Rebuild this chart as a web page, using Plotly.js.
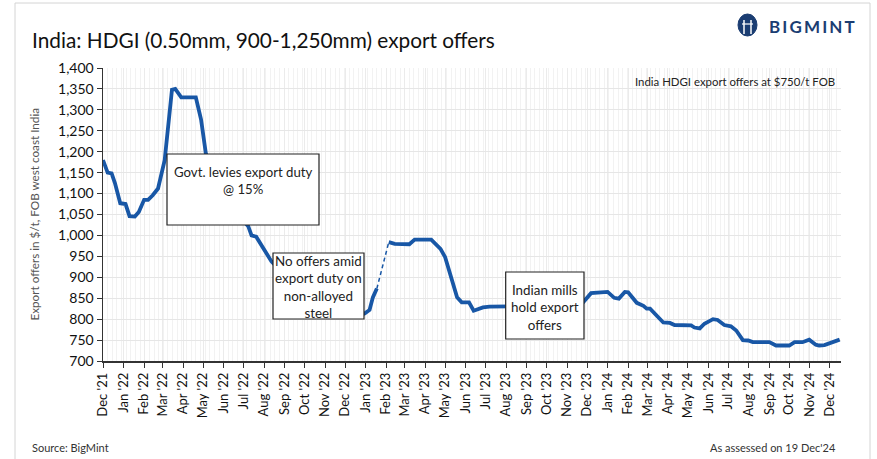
<!DOCTYPE html>
<html>
<head>
<meta charset="utf-8">
<script src="https://cdn.plot.ly/plotly-3.0.1.min.js"></script>
<style>
html,body{margin:0;padding:0;background:#fff;}
#chart{width:877px;height:459px;}
</style>
</head>
<body>
<div id="chart"></div>
<script>
// Weekly export offers, $/t FOB west coast India (vertices)
const offerDates = [
  '2021-12-01','2021-12-08','2021-12-14','2021-12-19','2021-12-27','2022-01-04','2022-01-10','2022-01-18',
  '2022-01-24','2022-02-01','2022-02-07','2022-02-14','2022-02-22','2022-03-04','2022-03-15','2022-03-20',
  '2022-03-29','2022-04-20','2022-04-28','2022-05-05','2022-05-15','2022-05-28','2022-06-12','2022-06-28',
  '2022-07-08','2022-07-13','2022-07-20','2022-08-12','2022-08-20',
  '2022-10-15',
  '2022-12-25','2022-12-31','2023-01-07','2023-01-12','2023-01-18',
  '2023-01-26',
  '2023-02-05','2023-02-14','2023-03-08','2023-03-16','2023-04-10','2023-04-24','2023-05-01','2023-05-11',
  '2023-05-19','2023-05-26','2023-06-06','2023-06-13','2023-06-27','2023-07-07','2023-07-30','2023-09-15',
  '2023-10-25','2023-11-20','2023-11-25','2023-12-07','2024-01-01','2024-01-11','2024-01-18','2024-01-27',
  '2024-02-01','2024-02-14','2024-02-24','2024-02-29','2024-03-05','2024-03-25','2024-04-04','2024-04-11',
  '2024-05-06','2024-05-11','2024-05-19','2024-05-26','2024-06-08','2024-06-15','2024-06-25','2024-07-05',
  '2024-07-13','2024-07-23','2024-07-31','2024-08-07','2024-09-01','2024-09-11','2024-10-01','2024-10-09',
  '2024-10-21','2024-10-31','2024-11-10','2024-11-15','2024-11-23','2024-12-06','2024-12-16'
];
const offerValues = [
  1180,1150,1148,1125,1077,1075,1046,1045,
  1056,1085,1085,1096,1112,1180,1348,1350,
  1330,1330,1276,1197,1150,1100,1060,1040,
  1022,1000,997,938,925,
  null,
  810,814,822,852,873,
  null,
  984,980,979,990,990,968,948,892,
  852,840,840,820,828,830,830,830,
  830,832,840,862,865,851,849,865,
  864,839,832,825,825,792,791,786,
  785,780,778,789,800,798,786,783,
  773,750,749,745,745,737,737,745,
  745,751,739,737,738,745,751
];
// dashed bridge where offers resumed
const bridgeDates = ['2023-01-18','2023-02-05'];
const bridgeValues = [873, 984];

const yTicks = [700,750,800,850,900,950,1000,1050,1100,1150,1200,1250,1300,1350,1400];

const chartTitle = 'India: HDGI (0.50mm, 900-1,250mm) export offers';
const yTitle = 'Export offers in $/t, FOB west coast India';
const noteText = 'India HDGI export offers at $750/t FOB';
const box1Text = 'Govt. levies export duty<br>@ 15%';
const box2Text = 'No offers amid<br>export duty on<br>non-alloyed<br>steel';
const box3Text = 'Indian mills<br>hold export<br>offers';
const sourceText = 'Source: BigMint';
const assessedText = "As assessed on 19 Dec'24";
const logoText = 'B\u2009I\u2009G\u2009M\u2009I\u2009N\u2009T';

const FONT = 'Lato, "Open Sans", sans-serif';
const blue = '#1857a6';

const traces = [
  {x: offerDates, y: offerValues, type: 'scatter', mode: 'lines',
   line: {color: blue, width: 3.8}, connectgaps: false, hoverinfo: 'x+y'},
  {x: bridgeDates, y: bridgeValues, type: 'scatter', mode: 'lines',
   line: {color: blue, width: 1.5, dash: '4px,3px'}, hoverinfo: 'x+y'}
];

// pixel -> paper helpers for the layout boxes
const L = 103, R = 841, T = 68, B = 361;
const px = v => (v - L) / (R - L);
const py = v => (B - v) / (B - T);

function box(x0, y0, x1, y1) {
  return {type: 'rect', xref: 'paper', yref: 'paper', layer: 'above',
    x0: px(x0), x1: px(x1), y0: py(y1), y1: py(y0),
    fillcolor: '#ffffff', line: {color: '#222222', width: 1.2}};
}

const layout = {
  width: 877, height: 459,
  margin: {l: L, r: 877 - R, t: T, b: 459 - B},
  paper_bgcolor: '#ffffff', plot_bgcolor: '#ffffff',
  showlegend: false,
  font: {family: FONT, color: '#222222'},
  xaxis: {
    type: 'date', range: ['2021-12-01', '2024-12-18'],
    tick0: '2021-12-01', dtick: 'M1', tickformat: "%b '%y", tickangle: -90,
    ticks: 'outside', ticklen: 5, tickcolor: '#333333', tickwidth: 1,
    showline: true, linecolor: '#333333', linewidth: 1.5,
    showgrid: true, gridcolor: '#ebebeb', gridwidth: 1,
    minor: {dtick: 7 * 86400000, tick0: '2021-12-01', showgrid: true, gridcolor: '#f2f2f2', gridwidth: 1},
    tickfont: {family: FONT, size: 13, color: '#111111'},
    zeroline: false, fixedrange: true
  },
  yaxis: {
    range: [700, 1400], tickvals: yTicks, tickformat: ',d',
    ticks: 'outside', ticklen: 5, tickcolor: '#333333',
    showline: true, linecolor: '#333333', linewidth: 1.5,
    showgrid: true, gridcolor: '#e6e6e6', gridwidth: 1,
    tickfont: {family: FONT, size: 14, color: '#111111'},
    zeroline: false, fixedrange: true
  },
  shapes: [
    // outer frame
    {type: 'rect', xref: 'paper', yref: 'paper', layer: 'below',
     x0: px(15), x1: px(870), y0: py(475), y1: py(3),
     line: {color: '#d4d4d4', width: 1}, fillcolor: 'rgba(0,0,0,0)'},
    box(167, 154, 319, 225),
    box(273, 253, 364, 319),
    box(505.7, 272, 584, 339),
    // logo icon
    {type: 'circle', xref: 'paper', yref: 'paper', x0: px(738), x1: px(757), y0: py(36), y1: py(14),
     fillcolor: '#1b3d72', line: {color: '#1b3d72', width: 1}},
    {type: 'line', xref: 'paper', yref: 'paper', x0: px(744), x1: px(744), y0: py(34), y1: py(20),
     line: {color: '#ffffff', width: 1.5}},
    {type: 'line', xref: 'paper', yref: 'paper', x0: px(751), x1: px(751), y0: py(34), y1: py(20),
     line: {color: '#ffffff', width: 1.5}},
    {type: 'line', xref: 'paper', yref: 'paper', x0: px(742), x1: px(753), y0: py(24), y1: py(24),
     line: {color: '#ffffff', width: 1.2}}
  ],
  annotations: [
    {text: chartTitle, xref: 'paper', yref: 'paper', x: px(30), y: py(40), xanchor: 'left', yanchor: 'middle',
     showarrow: false, font: {family: FONT, size: 20.8, color: '#111111'}},
    {text: '<b>' + logoText + '</b>', xref: 'paper', yref: 'paper', x: px(857), y: py(27), xanchor: 'right', yanchor: 'middle',
     showarrow: false, font: {family: FONT, size: 17, color: '#1b3d72'}},
    {text: yTitle, xref: 'paper', yref: 'paper', x: px(33), y: 0.5, xanchor: 'center', yanchor: 'middle',
     textangle: -90, showarrow: false, font: {family: FONT, size: 11.7, color: '#555555'}},
    {text: noteText, xref: 'paper', yref: 'paper', x: px(837), y: py(81), xanchor: 'right', yanchor: 'middle',
     showarrow: false, font: {family: FONT, size: 11.4, color: '#222222'}},
    {text: box1Text, xref: 'paper', yref: 'paper', x: px(243), y: py(162), xanchor: 'center', yanchor: 'top',
     showarrow: false, align: 'center', font: {family: FONT, size: 13.2, color: '#222222'}},
    {text: box2Text, xref: 'paper', yref: 'paper', x: px(318.5), y: py(251), xanchor: 'center', yanchor: 'top',
     showarrow: false, align: 'center', font: {family: FONT, size: 13.4, color: '#222222'}},
    {text: box3Text, xref: 'paper', yref: 'paper', x: px(545), y: py(280), xanchor: 'center', yanchor: 'top',
     showarrow: false, align: 'center', font: {family: FONT, size: 13.4, color: '#222222'}},
    {text: sourceText, xref: 'paper', yref: 'paper', x: px(30), y: py(447), xanchor: 'left', yanchor: 'middle',
     showarrow: false, font: {family: FONT, size: 11, color: '#333333'}},
    {text: assessedText, xref: 'paper', yref: 'paper', x: px(838), y: py(447), xanchor: 'right', yanchor: 'middle',
     showarrow: false, font: {family: FONT, size: 11, color: '#333333'}}
  ]
};

Plotly.newPlot('chart', traces, layout, {displayModeBar: false, staticPlot: true});
</script>
</body>
</html>
